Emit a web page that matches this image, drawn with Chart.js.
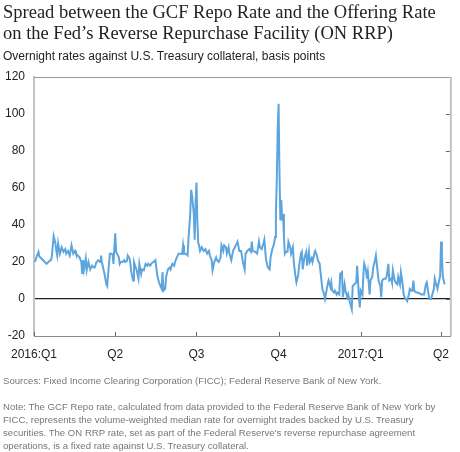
<!DOCTYPE html>
<html>
<head>
<meta charset="utf-8">
<script src="https://cdn.jsdelivr.net/npm/chart.js@4.4.1/dist/chart.umd.min.js"></script>
<style>
  body { margin: 0; background: #fff; overflow: hidden; }
  #wrap { position: relative; width: 460px; height: 452px; }
  #c { position: absolute; left: 0; top: 0; }
  .txt { position: absolute; left: 3px; white-space: nowrap; }
  #title { top: 2px; font-family: "Liberation Serif", serif; font-size: 18.5px; line-height: 21px; color: #222; }
  #sub { top: 49px; font-family: "Liberation Sans", Arial, sans-serif; font-size: 12px; line-height: 14px; color: #222; }
  #src { top: 374px; font-family: "Liberation Sans", Arial, sans-serif; font-size: 9.6px; line-height: 13px; color: #777; }
  #note { top: 400px; font-family: "Liberation Sans", Arial, sans-serif; font-size: 9.6px; line-height: 13px; color: #777; }
</style>
</head>
<body>
<div id="wrap">
  <canvas id="c" width="460" height="452"></canvas>
  <div class="txt" id="title">Spread between the GCF Repo Rate and the Offering Rate<br>on the Fed’s Reverse Repurchase Facility (ON RRP)</div>
  <div class="txt" id="sub">Overnight rates against U.S. Treasury collateral, basis points</div>
  <div class="txt" id="src">Sources: Fixed Income Clearing Corporation (FICC); Federal Reserve Bank of New York.</div>
  <div class="txt" id="note">Note: The GCF Repo rate, calculated from data provided to the Federal Reserve Bank of New York by<br>FICC, represents the volume-weighted median rate for overnight trades backed by U.S. Treasury<br>securities. The ON RRP rate, set as part of the Federal Reserve's reverse repurchase agreement<br>operations, is a fixed rate against U.S. Treasury collateral.</div>
</div>
<script>
// days since 2016-01-01
var days = [1,3,5,6,8,12,14,16,19,20,22,24,25,26,27,29,31,33,35,36,38,40,42,44,46,47,49,51,53,54,55,56,58,59,61,63,65,67,68,70,72,74,75,76,78,79,81,82,83,85,87,88,89,
  91,92,93,95,96,97,99,101,102,104,105,107,108,109,111,112,114,115,117,118,120,121,123,125,127,128,130,132,134,136,138,140,142,143,144,145,147,148,150,152,153,155,157,158,160,162,164,166,167,168,170,172,173,175,176,177,179,180,
  181,182,183,184,185,186,188,190,192,194,196,197,199,200,202,204,205,207,209,210,212,213,215,216,218,219,221,223,225,226,228,230,232,234,236,237,239,241,243,244,245,247,248,250,252,253,255,257,258,260,262,264,265,267,269,270,
  271,272,273,274,275,276,277,278,279,280,281,282,284,285,287,288,290,291,293,294,296,297,299,300,301,303,305,306,308,309,311,312,314,315,317,318,320,322,323,325,326,328,329,330,332,333,334,336,337,339,340,342,343,345,346,348,349,351,352,354,356,357,359,361,362,364,365,
  366,368,369,370,372,373,374,376,377,379,380,382,383,385,386,388,389,390,392,394,395,397,398,400,401,402,404,405,407,408,410,411,413,414,416,417,418,420,421,423,424,425,426,428,430,432,434,436,437,439,440,442,443,445,446,448,449,450,452,453,455,456,457,458,460];

// GCF repo rate minus ON RRP rate, basis points
var spread = [20,23,25.5,23,22,20,19,20,21,23,34,30,26,23.5,30,24.5,28,25.5,27,24.5,26,23.5,29,24.5,26,24.5,23.5,22.5,20,13.5,21,16,22,15.5,20,16,18,17,17,20,21,20,23.5,20,15.5,13.5,8,7,13.5,24.5,24.5,24,19,
  35.5,25.5,24.5,22.5,19,20,20,21,20,20.5,23.5,22,19,14.5,10,20,17,15.5,11,19,13.5,16,15.5,19,18,19,18,19.5,20,21,13,9,6.5,5.5,14.5,4.5,5.5,12,16,17,16,19,18,20,22.5,24.5,24.5,24.5,29,24.5,24.5,23.5,32,46,59,56,46,32,
  52,63,42,30,29,26,28,26,27,24.5,26,23.5,21,15.5,20,22.5,21,20,22.5,29,26,29,28,24.5,28,24.5,21,26,28,29,31,26,26,20,16,24.5,26,27,25.5,31,26,25.5,25.5,24.5,31,28,27,30,32,21,17,16,22.5,27,30,33.5,
  46,64.5,92,105.5,68,42.5,53.5,42.5,46,33.5,24.5,25.5,25.5,31,28,24.5,28,20,12,9,13,18,24.5,25.5,16,22.5,25.5,18,25.5,20,22,20,24.5,26,23.5,21,19,10,5.5,2.5,0,5.5,8,10,6.5,9,4.5,3.5,4.5,2.5,3.5,2.5,13.5,14.5,1,8,4.5,1,2.5,-2,-5.5,7,8,9,18,1,-4.5,
  4.5,2.5,13.5,19,15.5,11,14.5,2.5,10,12,17,21,23.5,14.5,10,7,1,10,11,11,12,19,10,11,9,15.5,10,9,8,12,8,14.5,8,2.5,0,0,-1,2.5,5.5,4.5,4.5,10,4.5,3.5,3.5,3,2.5,2.5,2.5,8,9,2.5,0,0,2,5.5,11,9,5.5,8,12.5,31,22.5,12,8];

var quarterDays = [0, 91, 182, 274, 366, 456];
var quarterLabels = ['2016:Q1', 'Q2', 'Q3', 'Q4', '2017:Q1', 'Q2'];
var yMin = -20, yMax = 120, yStep = 20;

var points = days.map(function (d, i) { return { x: d, y: spread[i] }; });

var framePlugin = {
  id: 'frame',
  afterDraw: function (chart) {
    var ctx = chart.ctx, a = chart.chartArea;
    var xs = chart.scales.x, ys = chart.scales.y;
    ctx.save();
    // top and right border
    ctx.strokeStyle = '#999';
    ctx.lineWidth = 1;
    ctx.beginPath();
    ctx.moveTo(a.left, a.top + 0.5);
    ctx.lineTo(a.right, a.top + 0.5);
    ctx.stroke();
    ctx.strokeStyle = '#c4c4c4';
    ctx.lineWidth = 2;
    ctx.beginPath();
    ctx.moveTo(a.right, a.top);
    ctx.lineTo(a.right, a.bottom);
    ctx.stroke();
    // inward ticks on right border
    ctx.strokeStyle = '#666';
    ctx.lineWidth = 1;
    for (var v = yMin + yStep; v < yMax; v += yStep) {
      var py = Math.round(ys.getPixelForValue(v)) + 0.5;
      ctx.beginPath();
      ctx.moveTo(a.right - 5, py);
      ctx.lineTo(a.right - 1, py);
      ctx.stroke();
    }
    // upward ticks on bottom axis
    quarterDays.forEach(function (d) {
      var px = Math.round(xs.getPixelForValue(d)) + 0.5;
      ctx.beginPath();
      ctx.moveTo(px, a.bottom);
      ctx.lineTo(px, a.bottom - 4);
      ctx.stroke();
    });
    ctx.restore();
  }
};

new Chart(document.getElementById('c'), {
  type: 'line',
  data: {
    datasets: [{
      data: points,
      borderColor: 'rgb(93, 165, 222)',
      borderWidth: 2,
      pointRadius: 0,
      tension: 0,
      fill: false
    }]
  },
  options: {
    responsive: false,
    animation: false,
    layout: { padding: { top: 77, right: 3, left: 0, bottom: 0 } },
    plugins: { legend: { display: false }, tooltip: { enabled: false } },
    scales: {
      x: {
        type: 'linear',
        min: 0,
        max: 467,
        afterBuildTicks: function (s) {
          s.ticks = quarterDays.map(function (d) { return { value: d }; });
        },
        afterFit: function (s) { s.height = 116; },
        grid: { display: false, drawTicks: false },
        border: { display: true, color: '#8a8a8a', width: 1 },
        ticks: {
          autoSkip: false,
          maxRotation: 0,
          padding: 11,
          color: '#222',
          font: { family: 'Liberation Sans, Arial, sans-serif', size: 12 },
          callback: function (v) {
            var i = quarterDays.indexOf(v);
            return i >= 0 ? quarterLabels[i] : '';
          }
        }
      },
      y: {
        min: yMin,
        max: yMax,
        afterFit: function (s) { s.width = 29; },
        grid: {
          drawTicks: false,
          lineWidth: 1.2,
          color: function (c) { return c.tick && c.tick.value === 0 ? '#222' : 'rgba(0,0,0,0)'; }
        },
        border: { display: true, color: '#c4c4c4', width: 2 },
        ticks: {
          stepSize: yStep,
          padding: 9,
          color: '#222',
          font: { family: 'Liberation Sans, Arial, sans-serif', size: 12 }
        }
      }
    }
  },
  plugins: [framePlugin]
});
</script>
</body>
</html>
